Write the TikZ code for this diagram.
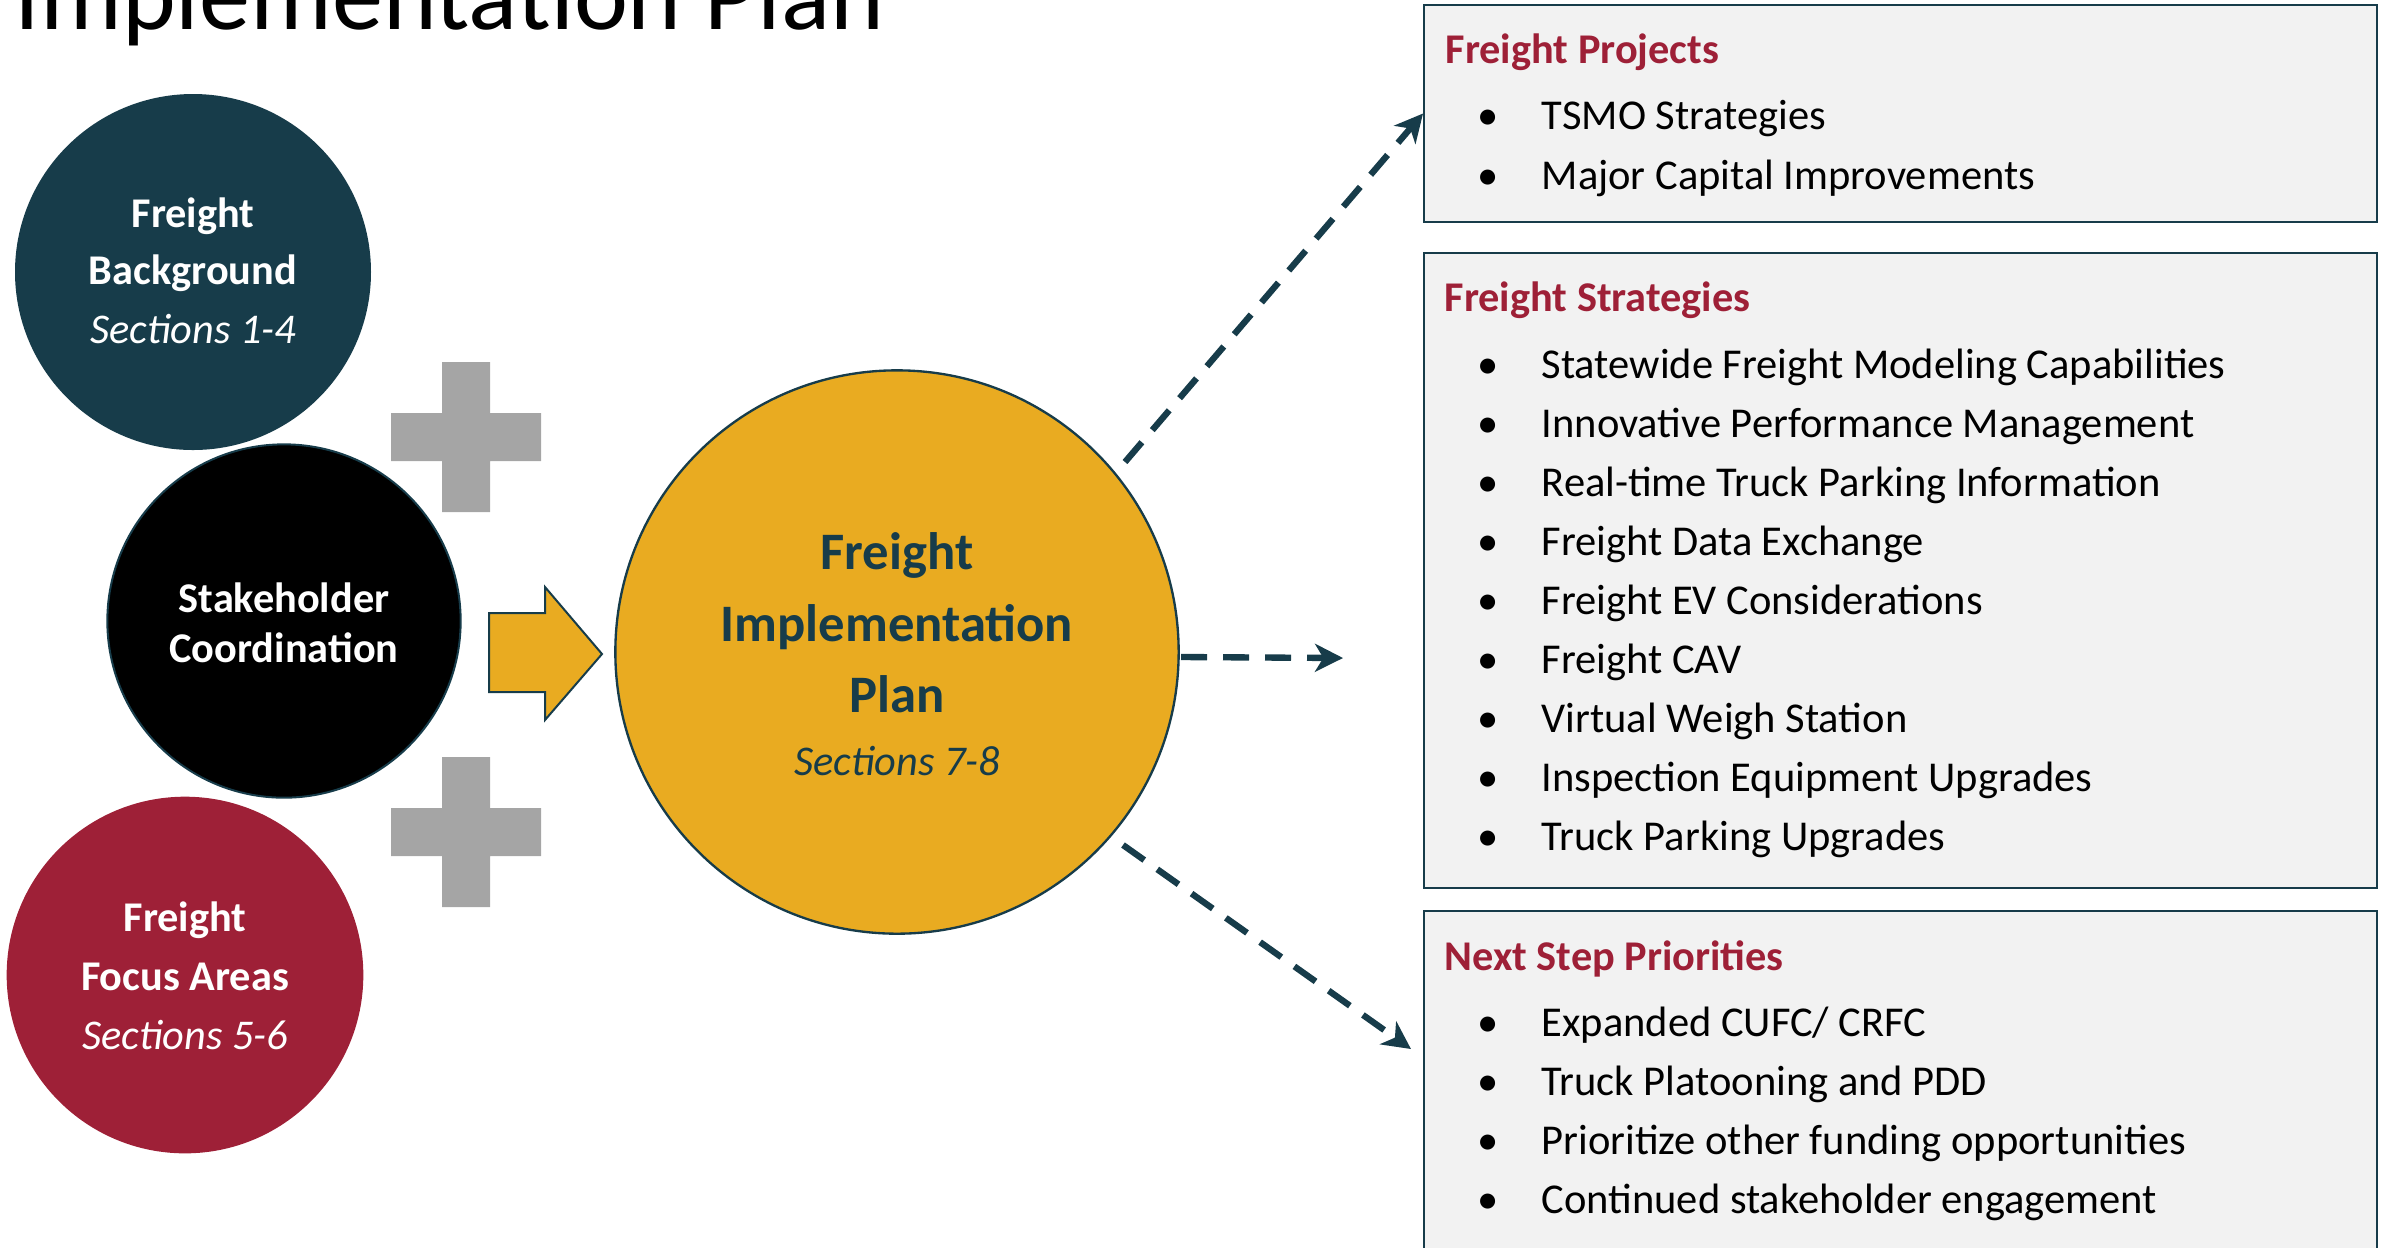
\documentclass[tikz,border=0pt]{standalone}
\usepackage{fontspec}
\setmainfont{Carlito}
\usetikzlibrary{arrows.meta}
\definecolor{fpteal}{HTML}{173C4A}
\definecolor{fpred}{HTML}{9E2037}
\definecolor{fpgold}{HTML}{E9AB21}
\definecolor{fpgray}{HTML}{A5A5A5}
\definecolor{fpbox}{HTML}{F2F2F2}
\tikzset{
  txt/.style={inner sep=0pt, anchor=base},
  wbold/.style={txt, text=white, font=\fontsize{12.7}{15}\selectfont\bfseries},
  wital/.style={txt, text=white, font=\fontsize{12.7}{15}\selectfont\itshape},
  gbold/.style={txt, text=fpteal, font=\fontsize{15.8}{19}\selectfont\bfseries},
  gital/.style={txt, text=fpteal, font=\fontsize{12.7}{15}\selectfont\itshape},
  bubble/.style={circle, inner sep=0pt},
  panel/.style={rectangle, inner sep=0pt, fill=fpbox, draw=fpteal, line width=0.6pt, minimum width=285.9pt},
  ptitle/.style={inner sep=0pt, anchor=base west, text=fpred, font=\fontsize{12.7}{15}\selectfont\bfseries},
  pbullet/.style={inner sep=0pt, anchor=base, font=\fontsize{12.75}{15}\selectfont},
  pitem/.style={inner sep=0pt, anchor=base west, font=\fontsize{12.75}{15}\selectfont},
  dasharrow/.style={draw=fpteal, line width=1.9pt, dash pattern=on 7.8pt off 4.8pt,
    -{Stealth[length=8.4pt,width=8.4pt,inset=2.5pt]}},
}
\begin{document}
\begin{tikzpicture}[x=0.3pt, y=-0.3pt]
\useasboundingbox (0,0) rectangle (2387,1247);
\clip (0,0) rectangle (2387,1247);

% title
\node[inner sep=0pt, anchor=base west, font=\fontsize{30.7}{36}\selectfont] (title) at (14,29) {Implementation Plan};

% left circles
\node[bubble, fill=fpteal, minimum size=106.8pt] (bg) at (193,272) {};
\node[wbold] (bg1) at (193,227) {Freight};
\node[wbold] (bg2) at (193,284) {Background};
\node[wital] (bg3) at (193,343) {Sections 1-4};

\node[bubble, fill=black, draw=fpteal, line width=0.6pt, minimum size=106pt] (sc) at (284,621) {};
\node[wbold] (sc1) at (284,612) {Stakeholder};
\node[wbold] (sc2) at (284,662) {Coordination};

\node[bubble, fill=fpred, minimum size=107pt] (fa) at (185,975) {};
\node[wbold] (fa1) at (185,931) {Freight};
\node[wbold] (fa2) at (185,990) {Focus Areas};
\node[wital] (fa3) at (185,1049) {Sections 5-6};

% plus signs
\foreach \cy in {437,832}{
  \fill[fpgray] (466-75,\cy-24) -- (466-24,\cy-24) -- (466-24,\cy-75) -- (466+24,\cy-75)
    -- (466+24,\cy-24) -- (466+75,\cy-24) -- (466+75,\cy+24) -- (466+24,\cy+24)
    -- (466+24,\cy+75) -- (466-24,\cy+75) -- (466-24,\cy+24) -- (466-75,\cy+24) -- cycle;
}

% block arrow
\draw[fill=fpgold, draw=fpteal, line width=0.6pt] (489,613) -- (545,613) -- (545,587) -- (602,654)
  -- (545,720) -- (545,692) -- (489,692) -- cycle;

% central circle
\node[bubble, fill=fpgold, draw=fpteal, line width=0.7pt, minimum size=169pt] (gold) at (897,652) {};
\node[gbold] (g1) at (897,569) {Freight};
\node[gbold] (g2) at (897,641) {Implementation};
\node[gbold] (g3) at (897,712) {Plan};
\node[gital] (g4) at (897,775) {Sections 7-8};

% panels
\node[panel, minimum height=65.1pt] (p1) at (1900.5,113.5) {};
\node[panel, minimum height=190.5pt] (p2) at (1900.5,570.5) {};
\node[panel, minimum height=116.7pt] (p3) at (1900.5,1105.5) {};

\node[ptitle] (p1t) at (1445,63) {Freight Projects};
\foreach \txt [count=\i] in {TSMO Strategies, Major Capital Improvements}{
  \pgfmathsetmacro{\yy}{129+60*(\i-1)}
  \node[pbullet] (p1b\i) at (1488,\yy) {•};
  \node[pitem] (p1i\i) at (1541,\yy) {\txt};
}

\node[ptitle] (p2t) at (1444,311) {Freight Strategies};
\foreach \txt [count=\i] in {Statewide Freight Modeling Capabilities, Innovative Performance Management,
  Real-time Truck Parking Information, Freight Data Exchange, Freight EV Considerations,
  Freight CAV, Virtual Weigh Station, Inspection Equipment Upgrades, Truck Parking Upgrades}{
  \pgfmathsetmacro{\yy}{378+59.1*(\i-1)}
  \node[pbullet] (p2b\i) at (1488,\yy) {•};
  \node[pitem] (p2i\i) at (1541,\yy) {\txt};
}

\node[ptitle] (p3t) at (1444,970) {Next Step Priorities};
\foreach \txt [count=\i] in {Expanded CUFC/ CRFC, Truck Platooning and PDD,
  Prioritize other funding opportunities, Continued stakeholder engagement}{
  \pgfmathsetmacro{\yy}{1036+59*(\i-1)}
  \node[pbullet] (p3b\i) at (1488,\yy) {•};
  \node[pitem] (p3i\i) at (1541,\yy) {\txt};
}

% dashed connectors
\coordinate (s1) at (1125,462);
\coordinate (s2) at (1181,657);
\coordinate (e2) at (1343,658);
\coordinate (s3) at (1123,845);
\coordinate (e3) at (1411,1049);
\draw[dasharrow] (s1) -- (p1.west);
\draw[dasharrow] (s2) -- (e2);
\draw[dasharrow] (s3) -- (e3);
\end{tikzpicture}
\end{document}
